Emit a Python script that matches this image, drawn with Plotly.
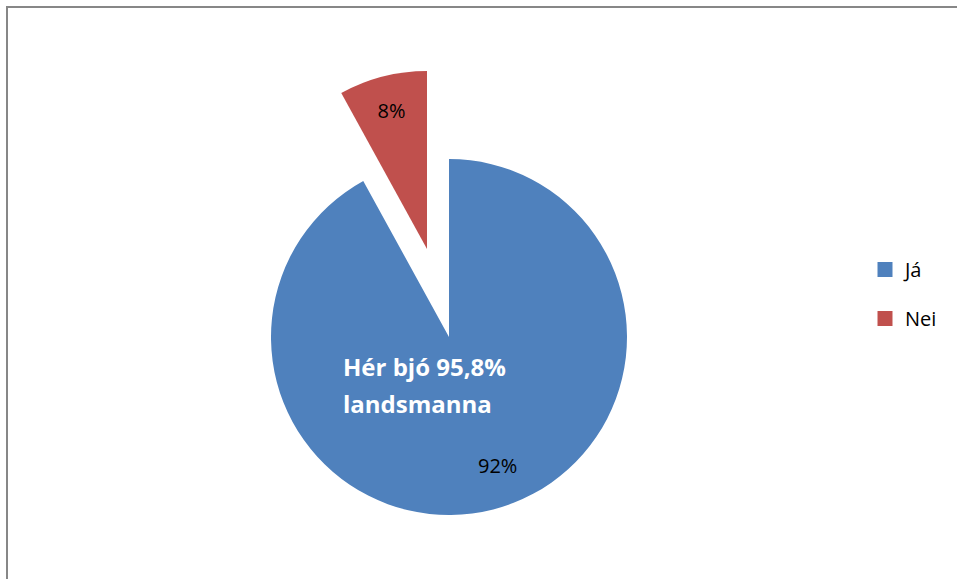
import plotly.graph_objects as go

labels = ["Já", "Nei"]
values = [92, 8]
colors = ["#4F81BD", "#C0504D"]
note_text = "Hér bjó 95,8%<br>landsmanna"

W, H = 957, 579
FONT = "'Open Sans', Lato, sans-serif"

def dom(cx, cy, r):
    return dict(x=[(cx - r) / W, (cx + r) / W], y=[(H - cy - r) / H, (H - cy + r) / H])

total = sum(values)
pct = [f"{round(v / total * 100)}%" for v in values]

fig = go.Figure()
# main (not exploded) slice
fig.add_trace(go.Pie(
    labels=labels, values=values, sort=False, direction="clockwise", rotation=0,
    marker=dict(colors=[colors[0], "rgba(0,0,0,0)"], line=dict(width=0)),
    textinfo="none",
    domain=dom(449, 337, 178), showlegend=False, hoverinfo="label+percent",
))
# exploded slice
fig.add_trace(go.Pie(
    labels=labels, values=values, sort=False, direction="clockwise", rotation=0,
    marker=dict(colors=["rgba(0,0,0,0)", colors[1]], line=dict(width=0)),
    texttemplate=["", "%{percent:.0%}"], textposition="inside",
    insidetextorientation="horizontal",
    textfont=dict(family=FONT, size=20, color="black"),
    domain=dom(427, 249, 178), showlegend=False, hoverinfo="label+percent",
))
# legend entries
for lab, col in zip(labels, colors):
    fig.add_trace(go.Scatter(
        x=[None], y=[None], mode="markers", name=lab, legendgroup=lab,
        marker=dict(symbol="square", size=15, color=col),
    ))

# percentage label of the large slice
fig.add_annotation(
    x=497 / W, y=1 - 465 / H, xref="paper", yref="paper", xanchor="center", yanchor="middle",
    text=pct[0], showarrow=False, font=dict(family=FONT, size=20, color="black"),
)

# note, one annotation per line
for i, line in enumerate(note_text.split("<br>")):
    fig.add_annotation(
        x=341 / W, y=1 - (366 + 37 * i) / H, xref="paper", yref="paper",
        xanchor="left", yanchor="middle",
        text="<b>" + line + "</b>", showarrow=False, align="left",
        font=dict(family=FONT, size=24, color="white"),
    )

fig.add_shape(type="rect", xref="paper", yref="paper",
              x0=7 / W, x1=1.05, y0=-0.05, y1=1 - 7 / H,
              line=dict(color="#878787", width=2), fillcolor="rgba(0,0,0,0)")

fig.update_layout(
    width=W, height=H, margin=dict(l=0, r=0, t=0, b=0),
    paper_bgcolor="white", plot_bgcolor="white",
    xaxis=dict(visible=False), yaxis=dict(visible=False),
    legend=dict(x=865 / W, y=1 - 294 / H, xanchor="left", yanchor="middle",
                traceorder="grouped", tracegroupgap=20,
                font=dict(family=FONT, size=20, color="black"),
                itemwidth=30, bgcolor="rgba(0,0,0,0)"),
)

fig.write_html("out.html", config={"displayModeBar": False},
               post_script="document.body.style.margin='0px';")
